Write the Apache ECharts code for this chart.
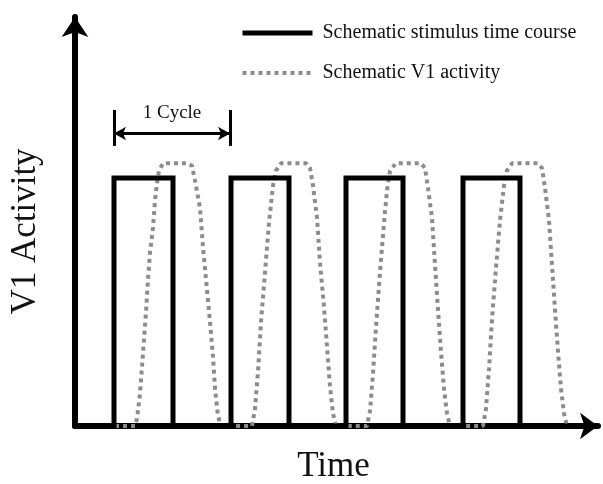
<!DOCTYPE html>
<html>
<head>
<meta charset="utf-8">
<script src="https://cdn.jsdelivr.net/npm/echarts@6/dist/echarts.min.js"></script>
<style>
  html, body { margin: 0; padding: 0; background: #fff; }
  #chart { width: 603px; height: 484px; }
</style>
</head>
<body>
<div id="chart"></div>
<script>
// time in arbitrary units, activity normalised so stimulus on = 1
const stimulus = [
  [0, 0], [39, 0], [39, 1], [98, 1], [98, 0],
  [156, 0], [156, 1], [214, 1], [214, 0],
  [271, 0], [271, 1], [328, 1], [328, 0],
  [388, 0], [388, 1], [445, 1], [445, 0], [519, 0]
];

const activityCycle1 = [
  [0, 0], [60, 0], [62, 0.03], [65, 0.13], [67, 0.24], [71, 0.46], [73, 0.59], [75, 0.7],
  [78, 0.8], [80, 0.91], [82, 0.98], [84, 1.03], [88, 1.06], [112, 1.06], [117, 1.05],
  [120, 0.99], [125, 0.88], [128, 0.72], [132, 0.55], [135, 0.42], [138, 0.28],
  [140, 0.15], [143, 0.04], [146, 0]
];
const activityCycle2 = [
  [177, 0], [180, 0.07], [183, 0.22], [186, 0.42], [190, 0.62], [194, 0.82], [198, 0.97],
  [201, 1.03], [206, 1.06], [231, 1.06], [235, 1.04], [238, 0.97], [242, 0.84], [245, 0.66],
  [249, 0.48], [252, 0.32], [255, 0.16], [258, 0.05], [261, 0]
];
const activityCycle3 = [
  [292, 0], [295, 0.06], [298, 0.21], [301, 0.4], [305, 0.62], [309, 0.82], [312, 0.95],
  [315, 1.03], [321, 1.06], [346, 1.06], [350, 1.04], [353, 0.96], [357, 0.84], [360, 0.65],
  [363, 0.47], [366, 0.3], [369, 0.15], [372, 0.05], [375, 0]
];
const activityCycle4 = [
  [408, 0], [411, 0.07], [414, 0.23], [417, 0.43], [421, 0.64], [425, 0.83], [429, 0.97],
  [432, 1.03], [437, 1.06], [463, 1.06], [467, 1.04], [470, 0.96], [474, 0.83], [477, 0.65],
  [480, 0.47], [483, 0.3], [486, 0.15], [489, 0.05], [492, 0], [515, 0]
];
const activity = activityCycle1.concat(activityCycle2, activityCycle3, activityCycle4);

// "1 Cycle" bracket: from first onset to second onset
const cycleStart = 39;
const cycleEnd = 155;
const cycleArrowY = 1.18;
const cycleBarLow = 1.13;
const cycleBarHigh = 1.275;

const serif = 'Liberation Serif';
const chart = echarts.init(document.getElementById('chart'));

chart.setOption({
  animation: false,
  grid: { left: 75, right: 5, top: 17, bottom: 58, outerBoundsMode: 'none', containLabel: false },
  legend: {
    orient: 'vertical',
    left: 235,
    top: 18,
    itemWidth: 70,
    itemHeight: 14,
    itemGap: 20,
    textStyle: { fontFamily: serif, fontSize: 20, color: '#111', padding: [0, 0, 0, 5] },
    data: [
      {
        name: 'Schematic stimulus time course',
        itemStyle: { opacity: 0 },
        lineStyle: { color: '#000', width: 5 }
      },
      {
        name: 'Schematic V1 activity',
        itemStyle: { opacity: 0 },
        lineStyle: { color: '#8c8c8c', width: 4, type: [4, 4] }
      }
    ]
  },
  xAxis: {
    type: 'value',
    min: 0,
    max: 523,
    name: 'Time',
    nameLocation: 'middle',
    nameGap: 23,
    nameTextStyle: { fontFamily: serif, fontSize: 35, color: '#111', padding: [0, 6, 0, 0] },
    axisLine: {
      show: true,
      symbol: ['none', 'arrow'],
      symbolSize: [20, 18],
      lineStyle: { color: '#000', width: 6 }
    },
    axisTick: { show: false },
    axisLabel: { show: false },
    splitLine: { show: false }
  },
  yAxis: {
    type: 'value',
    min: 0,
    max: 1.65,
    name: 'V1 Activity',
    nameLocation: 'middle',
    nameGap: 32,
    nameTextStyle: { fontFamily: serif, fontSize: 35, color: '#111', padding: [0, 20, 0, 0] },
    axisLine: {
      show: true,
      symbol: ['none', 'arrow'],
      symbolSize: [20, 20],
      lineStyle: { color: '#000', width: 6 }
    },
    axisTick: { show: false },
    axisLabel: { show: false },
    splitLine: { show: false }
  },
  series: [
    {
      name: 'Schematic stimulus time course',
      type: 'line',
      data: stimulus,
      showSymbol: false,
      symbol: 'none',
      lineStyle: { color: '#000', width: 5, join: 'miter' },
      itemStyle: { color: '#000' },
      z: 3,
      markLine: {
        silent: true,
        symbol: 'none',
        lineStyle: { color: '#000', width: 3, type: 'solid' },
        label: { show: false },
        data: [
          [
            { coord: [cycleStart, cycleArrowY], symbol: 'arrow', symbolSize: [10, 12] },
            {
              coord: [cycleEnd, cycleArrowY], symbol: 'arrow', symbolSize: [10, 12],
              label: {
                show: true,
                position: 'middle',
                formatter: '1 Cycle',
                distance: 11,
                fontFamily: serif,
                fontSize: 19,
                color: '#111'
              }
            }
          ],
          [{ coord: [cycleStart, cycleBarLow] }, { coord: [cycleStart, cycleBarHigh] }],
          [{ coord: [cycleEnd, cycleBarLow] }, { coord: [cycleEnd, cycleBarHigh] }]
        ]
      }
    },
    {
      name: 'Schematic V1 activity',
      type: 'line',
      data: activity,
      showSymbol: false,
      symbol: 'none',
      lineStyle: { color: '#8c8c8c', width: 4, type: [4, 4] },
      itemStyle: { color: '#8c8c8c' },
      z: 2
    }
  ]
});
</script>
</body>
</html>
